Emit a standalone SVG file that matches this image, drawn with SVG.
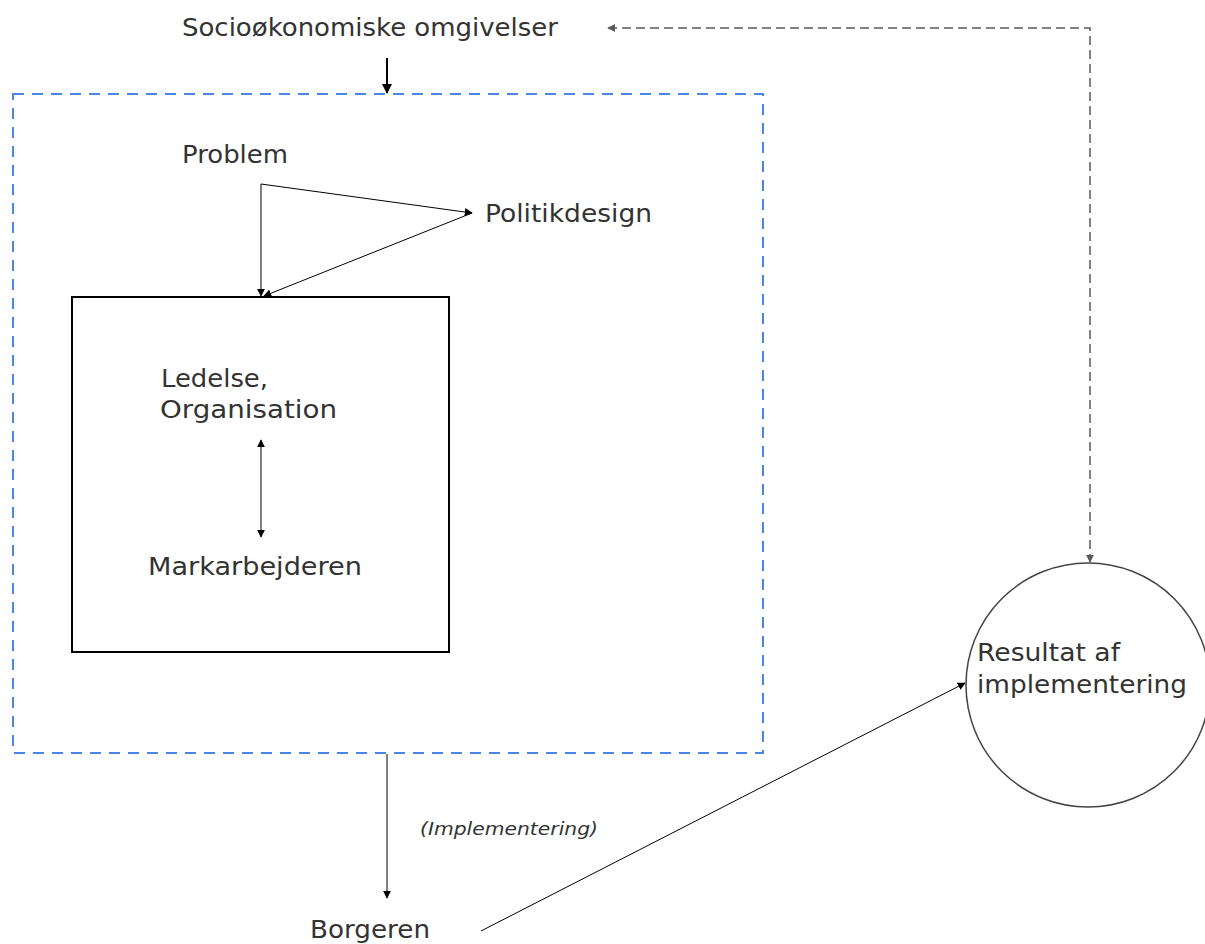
<svg xmlns="http://www.w3.org/2000/svg" width="1205" height="944" viewBox="0 0 1205 944">
  <style>
    .lbl { font-family: "DejaVu Sans", "Liberation Sans", sans-serif; font-size: 24px; fill: #333333; }
    .note { font-family: "DejaVu Sans", "Liberation Sans", sans-serif; font-size: 17px; font-style: italic; fill: #333333; }
    .thin { stroke: #000000; stroke-width: 1; fill: none; }
    .feedback { stroke: #595959; stroke-width: 1.5; fill: none; stroke-dasharray: 9 5; }
  </style>
  <defs>
    <marker id="tip" viewBox="0 0 10 10" refX="9" refY="5" markerWidth="8" markerHeight="8" markerUnits="userSpaceOnUse" orient="auto-start-reverse">
      <path d="M0,0 L10,5 L0,10 z" fill="#000000"/>
    </marker>
    <marker id="tipGray" viewBox="0 0 10 10" refX="9" refY="5" markerWidth="8" markerHeight="8" markerUnits="userSpaceOnUse" orient="auto-start-reverse">
      <path d="M0,0 L10,5 L0,10 z" fill="#595959"/>
    </marker>
    <marker id="tipBold" viewBox="0 0 10 10" refX="9" refY="5" markerWidth="10" markerHeight="10" markerUnits="userSpaceOnUse" orient="auto">
      <path d="M0,0 L10,5 L0,10 z" fill="#000000"/>
    </marker>
  </defs>
  <rect width="1205" height="944" fill="#ffffff"/>

  <!-- environment label -->
  <g id="socio">
    <text class="lbl" x="182" y="36" textLength="376" lengthAdjust="spacingAndGlyphs">Socioøkonomiske omgivelser</text>
  </g>

  <!-- implementation frame -->
  <g id="frame">
    <rect x="13" y="94" width="750" height="659" fill="none" stroke="#4a86e8" stroke-width="2" stroke-dasharray="11 8"/>
  </g>

  <g id="problem">
    <text class="lbl" x="182" y="163" textLength="106" lengthAdjust="spacingAndGlyphs">Problem</text>
  </g>

  <g id="politikdesign">
    <text class="lbl" x="485" y="222" textLength="167" lengthAdjust="spacingAndGlyphs">Politikdesign</text>
  </g>

  <!-- organisation box -->
  <g id="organisation">
    <rect x="72" y="297" width="377" height="355" fill="none" stroke="#000000" stroke-width="2"/>
    <text class="lbl" x="161" y="387" textLength="107" lengthAdjust="spacingAndGlyphs">Ledelse,</text>
    <text class="lbl" x="160" y="418" textLength="177" lengthAdjust="spacingAndGlyphs">Organisation</text>
    <text class="lbl" x="148" y="575" textLength="214" lengthAdjust="spacingAndGlyphs">Markarbejderen</text>
  </g>

  <g id="borgeren">
    <text class="lbl" x="310" y="938" textLength="120" lengthAdjust="spacingAndGlyphs">Borgeren</text>
  </g>

  <g id="resultat">
    <circle cx="1088" cy="685" r="122" fill="none" stroke="#444444" stroke-width="1.5"/>
    <text class="lbl" x="977" y="661" textLength="143" lengthAdjust="spacingAndGlyphs">Resultat af</text>
    <text class="lbl" x="977" y="693" textLength="210" lengthAdjust="spacingAndGlyphs">implementering</text>
  </g>

  <!-- connectors -->
  <g id="connectors">
    <line x1="387" y1="58" x2="387" y2="93" stroke="#000000" stroke-width="2" marker-end="url(#tipBold)"/>
    <line class="thin" x1="261" y1="184" x2="261" y2="296" marker-end="url(#tip)"/>
    <line class="thin" x1="261" y1="184" x2="472" y2="213" marker-end="url(#tip)"/>
    <line class="thin" x1="472" y1="213" x2="264" y2="296" marker-end="url(#tip)"/>
    <line class="thin" x1="261" y1="440" x2="261" y2="537" marker-start="url(#tip)" marker-end="url(#tip)"/>
    <line class="thin" x1="387" y1="754" x2="387" y2="898" marker-end="url(#tip)"/>
    <line class="thin" x1="481" y1="931" x2="965" y2="683" marker-end="url(#tip)"/>
    <!-- feedback loop between the environment and the result, arrowheads at both ends -->
    <polyline class="feedback" points="608,28 1090,28 1090,562" marker-start="url(#tipGray)" marker-end="url(#tipGray)"/>
    <text class="note" x="420" y="835" textLength="178" lengthAdjust="spacingAndGlyphs">(Implementering)</text>
  </g>
</svg>
